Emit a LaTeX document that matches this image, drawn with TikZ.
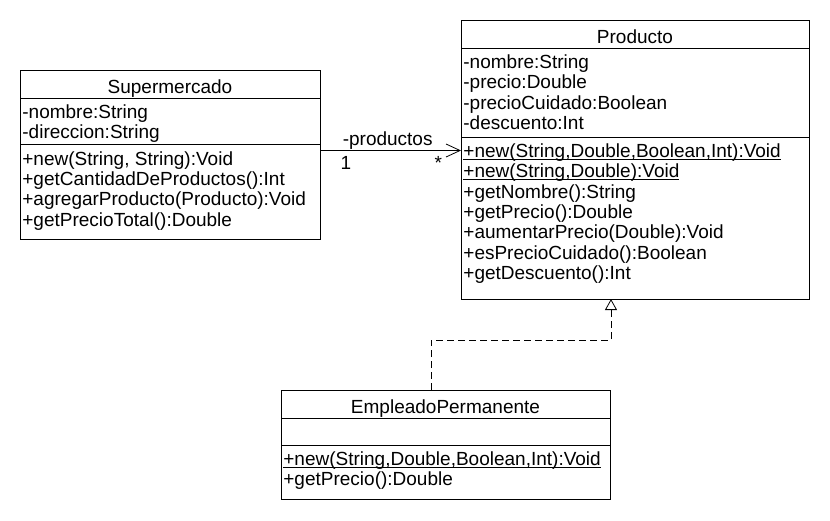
\documentclass[tikz,border=0pt]{standalone}
\usepackage{fontspec}
\setmainfont{Liberation Sans}
\usetikzlibrary{positioning,arrows.meta}
\newsavebox\staticbox
\newcommand{\staticop}[1]{\sbox\staticbox{#1}\rlap{\rule[-2pt]{\wd\staticbox}{0.8pt}}\usebox\staticbox}
\begin{document}
\begin{tikzpicture}[x=1pt,y=-1pt,line width=0.8pt,
		nodes={font=\fontsize{19}{20.3}\selectfont},
		compart/.style={draw, outer sep=0pt, inner sep=0pt, minimum width=#1},
		classname/.style={compart=#1, text height=21pt, text depth=3pt, minimum height=28pt},
		members/.style={anchor=north west, align=left, inner xsep=2pt, inner ysep=6.5pt},
		assoc/.style={-{Straight Barb[length=14pt,width=13pt]}},
		realize/.style={dash pattern=on 7pt off 4pt, -{Triangle[open,length=11pt,width=12pt]}}]
			\useasboundingbox (0,0) rectangle (830,520);
			\node[classname=300pt, anchor=north west] (supT) at (20,70) {Supermercado};
			\node[compart=300pt, minimum height=46.5pt, below=0pt of supT] (supA) {};
			\node[compart=300pt, minimum height=94.5pt, below=0pt of supA] (supM) {};
			\node[members] (supAtxt) at (supA.north west) {-nombre:String\\-direccion:String};
			\node[members] (supMtxt) at (supM.north west) {+new(String, String):Void\\+getCantidadDeProductos():Int\\+agregarProducto(Producto):Void\\+getPrecioTotal():Double};
			\node[classname=348pt, anchor=north west] (prodT) at (461,20) {Producto};
			\node[compart=348pt, minimum height=89pt, below=0pt of prodT] (prodA) {};
			\node[compart=348pt, minimum height=162pt, below=0pt of prodA] (prodM) {};
			\node[members] (prodAtxt) at (prodA.north west) {-nombre:String\\-precio:Double\\-precioCuidado:Boolean\\-descuento:Int};
			\node[members] (prodMtxt) at (prodM.north west) {\staticop{+new(String,Double,Boolean,Int):Void}\\\staticop{+new(String,Double):Void}\\+getNombre():String\\+getPrecio():Double\\+aumentarPrecio(Double):Void\\+esPrecioCuidado():Boolean\\+getDescuento():Int};
			\node[classname=329pt, anchor=north west] (empT) at (281,390) {EmpleadoPermanente};
			\node[compart=329pt, minimum height=27pt, below=0pt of empT] (empA) {};
			\node[compart=329pt, minimum height=54pt, below=0pt of empA] (empM) {};
			\node[members] (empMtxt) at (empM.north west) {\staticop{+new(String,Double,Boolean,Int):Void}\\+getPrecio():Double};
			\coordinate (assocS) at ([yshift=-6pt]supM.north east);
			\draw[assoc] (assocS) -- (assocS -| prodM.west)
				node[pos=0.48, above=0pt, inner sep=1pt] (roleLbl) {-productos}
				node[pos=0.184, below=5pt, inner sep=1pt] (multOne) {1}
				node[pos=0.84, below=5pt, inner sep=1pt] (multMany) {*};
			\draw[realize] ([xshift=-14.5pt]empT.north) |- ([xshift=-24pt, yshift=-41pt]prodM.south) -- ([xshift=-24pt]prodM.south);
		\end{tikzpicture}
\end{document}
